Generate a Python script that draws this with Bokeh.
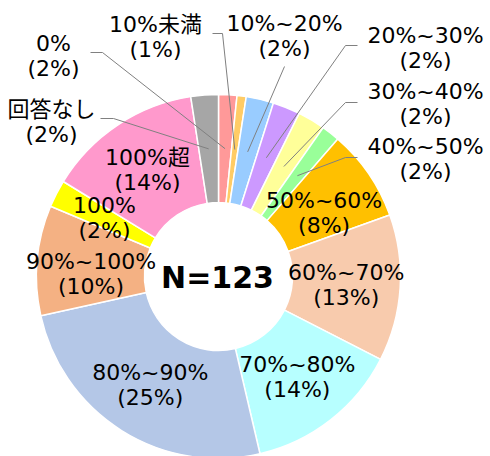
import math
from bokeh.plotting import figure
from bokeh.models import Range1d, ColumnDataSource
from bokeh.core.properties import value
from bokeh.embed import file_html
from bokeh.resources import INLINE

# ---- data ----
categories = ["0%", "10%未満", "10%~20%", "20%~30%", "30%~40%", "40%~50%",
              "50%~60%", "60%~70%", "70%~80%", "80%~90%", "90%~100%",
              "100%", "100%超", "回答なし"]
counts = [2, 1, 3, 3, 3, 2, 10, 16, 17, 31, 12, 3, 17, 3]
pct_labels = ["2%", "1%", "2%", "2%", "2%", "2%", "8%", "13%", "14%", "25%",
              "10%", "2%", "14%", "2%"]
colors = ["#FF9999", "#FFCC66", "#99CCFF", "#CC99FF", "#FFFF99", "#99FF99",
          "#FFC000", "#F8CBAD", "#B7FFFF", "#B4C7E7", "#F4B183", "#FFFF00",
          "#FF99CC", "#A6A6A6"]
total_n = 123

# ---- layout (page coordinates: y downward) ----
W, H = 490, 456
CX, CY = 218, 276
R_OUT, R_IN = 182, 74
R_MID = (R_OUT + R_IN) / 2
FONT = "DejaVu Sans, Noto Sans CJK JP"

def to_y(py):
    return H - py

p = figure(width=W, height=H, output_backend="svg", toolbar_location=None,
           x_range=Range1d(0, W), y_range=Range1d(0, H), min_border=0)
p.axis.visible = False
p.grid.visible = False
p.outline_line_color = None
p.background_fill_color = "white"
p.border_fill_color = "white"

tot = sum(counts)
starts, ends, mids = [], [], []
c = 0
for v in counts:
    a0 = c / tot * 2 * math.pi
    c += v
    a1 = c / tot * 2 * math.pi
    starts.append(math.pi / 2 - a0)
    ends.append(math.pi / 2 - a1)
    mids.append((a0 + a1) / 2)  # clockwise from top

src = ColumnDataSource(dict(start=starts, end=ends, color=colors))
p.annular_wedge(x=CX, y=to_y(CY), inner_radius=R_IN, outer_radius=R_OUT,
                start_angle="start", end_angle="end", direction="clock",
                fill_color="color", line_color="white", line_width=1.5,
                source=src)

def mid_point(i, r=R_MID):
    t = mids[i]
    return CX + r * math.sin(t), CY - r * math.cos(t)

# outside labels: label center, leader start, elbow
outside = {
    0: ((53, 55), (90, 52), (102, 52)),
    1: ((155, 36), (212, 33), (222, 33)),
    2: ((284, 35), None, (284, 66)),
    3: ((425, 47), (357, 45), (345, 45)),
    4: ((425, 103), (357, 102), (345, 102)),
    5: ((425, 158), (357, 157), (345, 157)),
    13: ((51, 121), (100, 118), (113, 118)),
}
nudge = {6: 9, 10: 9}

lx, ly, lt = [], [], []
for i, cat in enumerate(categories):
    txt = f"{cat}\n({pct_labels[i]})"
    if i in outside:
        (tx, ty), s, e = outside[i]
        ex, ey = mid_point(i)
        xs, ys = [], []
        if s is not None:
            xs.append(s[0]); ys.append(to_y(s[1]))
        xs += [e[0], ex]
        ys += [to_y(e[1]), to_y(ey)]
        p.line(xs, ys, line_color="#808080", line_width=1)
    else:
        tx, ty = mid_point(i)
        ty += nudge.get(i, 0)
    lx.append(tx); ly.append(to_y(ty)); lt.append(txt)

p.text(x=lx, y=ly, text=lt, text_font=value(FONT), text_font_size="22px",
       text_align="center", text_baseline="middle", text_color="black",
       text_line_height=1.0)

p.text(x=[CX - 1], y=[to_y(CY + 1)], text=[f"N={total_n}"], text_font=value(FONT),
       text_font_size="30px", text_font_style="bold", text_align="center",
       text_baseline="middle", text_color="black")

open("out.html", "w").write(file_html(p, INLINE))
